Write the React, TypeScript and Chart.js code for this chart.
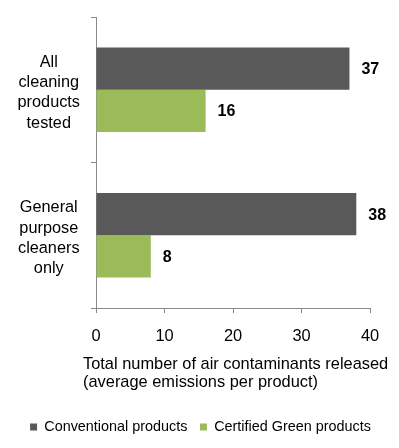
import React, { useEffect, useRef } from "react";
import { Chart, registerables } from "chart.js";

Chart.register(...registerables);

const categories: string[][] = [
  ["All", "cleaning", "products", "tested"],
  ["General", "purpose", "cleaners", "only"],
];
const seriesNames = ["Conventional products", "Certified Green products"];
const conventional = [37, 38];
const certifiedGreen = [16, 8];
const xTickValues = [0, 10, 20, 30, 40];
const xTitleLines = [
  "Total number of air contaminants released",
  "(average emissions per product)",
];

const FONT = '"Liberation Sans", Arial, Helvetica, sans-serif';
const AXIS_COLOR = "#898989";

const valueLabels = {
  id: "valueLabels",
  afterDatasetsDraw(chart: any) {
    const ctx = chart.ctx;
    ctx.save();
    ctx.font = `bold 16px ${FONT}`;
    ctx.fillStyle = "#000000";
    ctx.textAlign = "left";
    ctx.textBaseline = "middle";
    chart.data.datasets.forEach((ds: any, i: number) => {
      chart.getDatasetMeta(i).data.forEach((bar: any, j: number) => {
        ctx.fillText(String(ds.data[j]), bar.x + 12, bar.y + 1);
      });
    });
    ctx.restore();
  },
};

const xTitle = {
  id: "xTitle",
  afterDraw(chart: any) {
    const ctx = chart.ctx;
    const bottom = chart.chartArea.bottom;
    ctx.save();
    ctx.font = `16.4px ${FONT}`;
    ctx.fillStyle = "#000000";
    ctx.textAlign = "left";
    ctx.textBaseline = "middle";
    xTitleLines.forEach((line, i) => {
      ctx.fillText(line, 83, bottom + 56 + i * 18.5);
    });
    ctx.restore();
  },
};

export default function App() {
  const canvasRef = useRef<HTMLCanvasElement | null>(null);

  useEffect(() => {
    document.body.style.margin = "0";
    const canvas = canvasRef.current;
    if (!canvas) return;
    const chart = new Chart(canvas, {
      type: "bar",
      data: {
        labels: categories,
        datasets: [
          {
            label: seriesNames[0],
            data: conventional,
            backgroundColor: "#595959",
            borderWidth: 0,
            barPercentage: 1,
            categoryPercentage: 0.58,
          },
          {
            label: seriesNames[1],
            data: certifiedGreen,
            backgroundColor: "#9BBB59",
            borderWidth: 0,
            barPercentage: 1,
            categoryPercentage: 0.58,
          },
        ],
      },
      options: {
        indexAxis: "y",
        responsive: false,
        animation: false,
        layout: { padding: { top: 17, right: 0, bottom: 3.8, left: 2 } },
        plugins: {
          legend: {
            position: "bottom",
            labels: {
              boxWidth: 7,
              boxHeight: 7,
              padding: 12.5,
              color: "#000000",
              font: { family: FONT, size: 14.4 },
            },
          },
          tooltip: { enabled: false },
        },
        scales: {
          x: {
            type: "linear",
            min: 0,
            max: 40,
            afterBuildTicks(scale: any) {
              scale.ticks = xTickValues.map((v) => ({ value: v }));
            },
            afterFit(scale: any) {
              scale.height = 99.3;
            },
            grid: {
              drawOnChartArea: false,
              drawTicks: true,
              tickLength: 5,
              color: AXIS_COLOR,
            },
            border: { color: AXIS_COLOR, width: 1 },
            ticks: {
              color: "#000000",
              padding: 14,
              font: { family: FONT, size: 16.4 },
            },
          },
          y: {
            type: "category",
            offset: true,
            afterFit(scale: any) {
              scale.width = 94;
              scale.paddingTop = 0;
              scale.paddingBottom = 0;
            },
            grid: {
              offset: true,
              drawOnChartArea: false,
              tickLength: 5,
              color: AXIS_COLOR,
            },
            border: { color: AXIS_COLOR, width: 1 },
            ticks: {
              color: "#000000",
              crossAlign: "center",
              padding: 11,
              labelOffset: 3,
              font: { family: FONT, size: 16.3, lineHeight: 1.25 },
            },
          },
          spacer: {
            type: "linear",
            position: "right",
            display: true,
            afterFit(scale: any) {
              scale.width = 29;
            },
            grid: { display: false, drawTicks: false },
            border: { display: false },
            ticks: { display: false },
          },
        },
      },
      plugins: [valueLabels, xTitle],
    });
    return () => chart.destroy();
  }, []);

  return (
    <div style={{ width: 399, height: 448 }}>
      <canvas ref={canvasRef} width={399} height={448} style={{ display: "block" }} />
    </div>
  );
}
